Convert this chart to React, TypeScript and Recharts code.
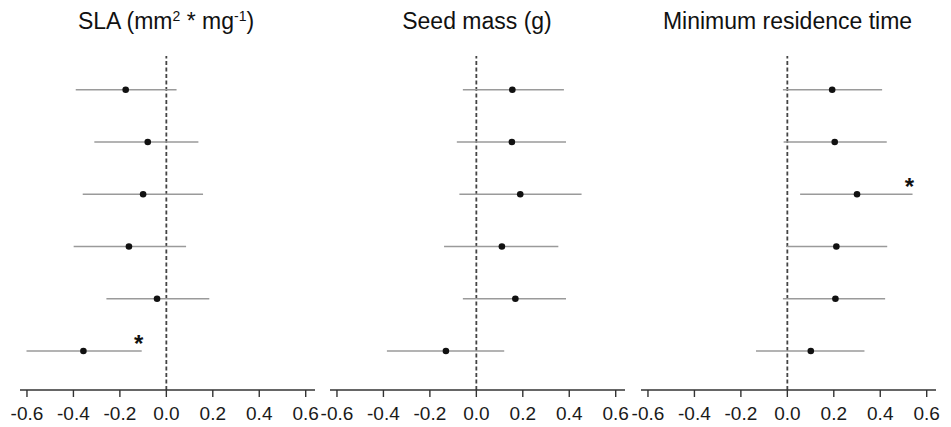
import React from "react";
import { ScatterChart, Scatter, XAxis, YAxis, ErrorBar, ReferenceLine } from "recharts";

// Six effects per panel, listed top to bottom.
const rowPositions = [6, 5, 4, 3, 2, 1];
const xTicks = [-0.6, -0.4, -0.2, 0.0, 0.2, 0.4, 0.6];

const slaEstimate = [-0.175, -0.08, -0.1, -0.161, -0.04, -0.357];
const slaLower = [-0.39, -0.31, -0.36, -0.399, -0.258, -0.602];
const slaUpper = [0.044, 0.138, 0.158, 0.085, 0.185, -0.106];
const slaSignificant = [false, false, false, false, false, true];

const seedEstimate = [0.155, 0.153, 0.189, 0.11, 0.168, -0.131];
const seedLower = [-0.058, -0.084, -0.073, -0.139, -0.058, -0.385];
const seedUpper = [0.377, 0.386, 0.453, 0.353, 0.386, 0.12];
const seedSignificant = [false, false, false, false, false, false];

const mrtEstimate = [0.193, 0.204, 0.3, 0.211, 0.207, 0.101];
const mrtLower = [-0.019, -0.016, 0.055, -0.003, -0.019, -0.135];
const mrtUpper = [0.408, 0.428, 0.539, 0.43, 0.421, 0.332];
const mrtSignificant = [false, false, true, false, false, false];

const FONT = "'Liberation Sans', Arial, sans-serif";
const X_DOMAIN: [number, number] = [-0.63, 0.64];
const Y_DOMAIN: [number, number] = [0.254, 6.645];
const PLOT_W = 295;
const SIDE = 14;

type PanelProps = {
  left: number;
  est: number[];
  lo: number[];
  hi: number[];
  sig: boolean[];
};

function buildRows(est: number[], lo: number[], hi: number[]) {
  return rowPositions.map((y, i) => ({
    x: est[i],
    y,
    err: [est[i] - lo[i], hi[i] - est[i]],
  }));
}

function buildStars(hi: number[], sig: boolean[]) {
  return rowPositions
    .map((y, i) => ({ x: hi[i], y, on: sig[i] }))
    .filter((d) => d.on);
}

const Dot = (p: any) => <circle cx={p.cx} cy={p.cy} r={3.3} fill="#111" />;
const Nothing = () => <g />;
const Star = (p: any) => (
  <text
    x={p.cx - 3}
    y={p.cy + 1}
    textAnchor="middle"
    fontSize={24}
    fontWeight="bold"
    fontFamily={FONT}
    fill="#111"
  >
    *
  </text>
);

function Panel({ left, est, lo, hi, sig }: PanelProps) {
  const rows = buildRows(est, lo, hi);
  const stars = buildStars(hi, sig);
  return (
    <div style={{ position: "absolute", left: left - SIDE, top: 0 }}>
      <ScatterChart
        width={PLOT_W + SIDE * 2}
        height={427}
        margin={{ top: 56, right: SIDE, bottom: 0, left: SIDE }}
      >
        <XAxis
          type="number"
          dataKey="x"
          domain={X_DOMAIN}
          ticks={xTicks}
          interval={0}
          allowDataOverflow
          height={37}
          tickSize={7}
          tickMargin={10}
          stroke="#333"
          strokeWidth={1.4}
          tickFormatter={(v: number) => v.toFixed(1)}
          tick={{ fontSize: 19, fill: "#1a1a1a", fontFamily: FONT }}
        />
        <YAxis type="number" dataKey="y" domain={Y_DOMAIN} hide allowDataOverflow />
        <ReferenceLine x={0} stroke="#444" strokeWidth={1.8} strokeDasharray="4 2.5" />
        <Scatter data={rows} shape={Nothing} isAnimationActive={false}>
          <ErrorBar
            dataKey="err"
            direction="x"
            width={0}
            stroke="#9a9a9a"
            strokeWidth={1.6}
            isAnimationActive={false}
          />
        </Scatter>
        <Scatter data={rows} shape={Dot} isAnimationActive={false} />
        <Scatter data={stars} shape={Star} isAnimationActive={false} />
      </ScatterChart>
    </div>
  );
}

const titleStyle = { fontSize: 23, fontFamily: FONT, fill: "#111" };

export default function App() {
  return (
    <div style={{ position: "absolute", left: 0, top: 0, width: 951, height: 427, background: "#fff" }}>
      <Panel left={19.5} est={slaEstimate} lo={slaLower} hi={slaUpper} sig={slaSignificant} />
      <Panel left={330.4} est={seedEstimate} lo={seedLower} hi={seedUpper} sig={seedSignificant} />
      <Panel left={641.1} est={mrtEstimate} lo={mrtLower} hi={mrtUpper} sig={mrtSignificant} />
      <svg
        width={951}
        height={50}
        style={{ position: "absolute", left: 0, top: 0, pointerEvents: "none" }}
      >
        <text x={166} y={28.5} textAnchor="middle" style={titleStyle}>
          SLA (mm
          <tspan dy={-8} fontSize={14}>2</tspan>
          <tspan dy={8}> * mg</tspan>
          <tspan dy={-8} fontSize={14}>-1</tspan>
          <tspan dy={8}>)</tspan>
        </text>
        <text x={477} y={28.5} textAnchor="middle" style={titleStyle}>
          Seed mass (g)
        </text>
        <text x={787.5} y={28.5} textAnchor="middle" style={titleStyle}>
          Minimum residence time
        </text>
      </svg>
    </div>
  );
}
